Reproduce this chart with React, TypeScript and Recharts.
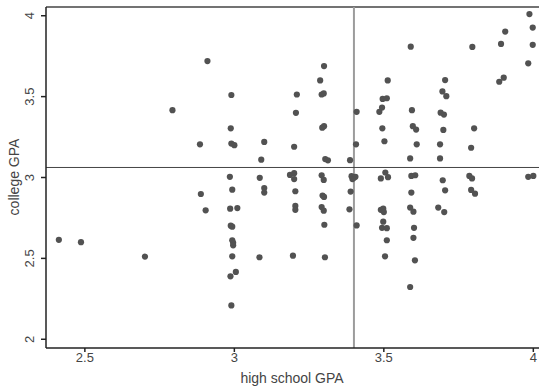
import { ScatterChart, Scatter, XAxis, YAxis, ReferenceLine, Label } from 'recharts';

// high school GPA / college GPA pairs
const hsGPA = [
  2.413, 2.487, 2.701, 2.793, 2.885, 2.888, 2.904, 2.91,
  2.99, 2.988, 2.99, 3.0, 2.985, 2.993, 2.986, 3.01, 2.988, 2.993, 2.993, 2.996, 2.996, 2.993, 2.987, 3.005, 2.99,
  3.1, 3.09, 3.085, 3.1, 3.1, 3.084,
  3.209, 3.206, 3.2, 3.186, 3.2, 3.2, 3.204, 3.204, 3.204, 3.196,
  3.3, 3.287, 3.292, 3.299, 3.294, 3.3, 3.304, 3.313, 3.292, 3.299, 3.295, 3.3, 3.292, 3.299, 3.301, 3.303,
  3.409, 3.407, 3.387, 3.392, 3.4, 3.405, 3.395, 3.389, 3.385, 3.409,
  3.513, 3.496, 3.51, 3.485, 3.494, 3.495, 3.502, 3.505, 3.49, 3.514, 3.49, 3.498, 3.5, 3.498, 3.494, 3.51, 3.51, 3.504,
  3.59, 3.594, 3.597, 3.608, 3.61, 3.588, 3.592, 3.605, 3.592, 3.588, 3.599, 3.601, 3.599, 3.604, 3.588,
  3.705, 3.696, 3.709, 3.69, 3.701, 3.699, 3.688, 3.688, 3.697, 3.705, 3.682, 3.702,
  3.796, 3.802, 3.792, 3.786, 3.795, 3.792, 3.805,
  3.892, 3.906, 3.886, 3.901,
  3.987, 3.998, 3.998, 3.983, 3.983, 4.0,
];

const colGPA = [
  2.615, 2.6, 2.511, 3.416, 3.205, 2.898, 2.797, 3.72,
  3.51, 3.304, 3.21, 3.2, 3.004, 2.925, 2.807, 2.811, 2.702, 2.696, 2.612, 2.596, 2.581, 2.513, 2.389, 2.416, 2.209,
  3.22, 3.11, 2.998, 2.935, 2.907, 2.507,
  3.513, 3.4, 3.19, 3.016, 3.027, 2.99, 2.915, 2.824, 2.8, 2.517,
  3.689, 3.6, 3.513, 3.52, 3.308, 3.317, 3.114, 3.106, 3.014, 2.985, 2.888, 2.88, 2.817, 2.795, 2.708, 2.507,
  3.406, 3.205, 3.107, 3.008, 2.998, 3.004, 2.99, 2.913, 2.803, 2.704,
  3.6, 3.486, 3.49, 3.406, 3.432, 3.304, 3.224, 3.031, 2.994, 3.002, 2.8, 2.807, 2.786, 2.727, 2.689, 2.687, 2.612, 2.513,
  3.809, 3.416, 3.317, 3.296, 3.205, 3.118, 3.01, 3.014, 2.907, 2.814, 2.789, 2.689, 2.627, 2.488, 2.323,
  3.602, 3.532, 3.503, 3.401, 3.389, 3.294, 3.205, 3.118, 2.983, 2.921, 2.814, 2.786,
  3.807, 3.304, 3.184, 3.01, 2.994, 2.923, 2.9,
  3.826, 3.902, 3.592, 3.617,
  4.01, 3.927, 3.82, 3.706, 3.004, 3.01,
];

const xTicks = [2.5, 3, 3.5, 4];
const yTicks = [2, 2.5, 3, 3.5, 4];
const xDomain = [2.37, 4.019];
const yDomain = [1.946, 4.054];
const meanHs = 3.4;
const meanCol = 3.062;

const data = hsGPA.map((x, i) => ({ x, y: colGPA[i] }));

const FONT = '"Liberation Sans", Arial, sans-serif';
const INK = '#444';

const XTick = (props: any) => {
  const { x, y, payload } = props;
  return (
    <text x={x} y={y + 8} textAnchor="middle" fontSize={13} fill={INK} fontFamily={FONT}>
      {payload.value}
    </text>
  );
};

const YTick = (props: any) => {
  const { x, y, payload } = props;
  const bx = x - 5;
  return (
    <text
      x={bx}
      y={y}
      transform={`rotate(-90 ${bx} ${y})`}
      textAnchor="middle"
      fontSize={13}
      fill={INK}
      fontFamily={FONT}
    >
      {payload.value}
    </text>
  );
};

const Dot = (props: any) => <circle cx={props.cx} cy={props.cy} r={3.1} fill="#525252" />;

export default function App() {
  return (
    <div style={{ position: 'absolute', left: 0, top: 0, background: '#fff' }}>
      <ScatterChart width={540} height={386} margin={{ top: 7, right: 1, left: 0, bottom: 0 }}>
        <XAxis
          type="number"
          dataKey="x"
          domain={xDomain}
          ticks={xTicks}
          allowDataOverflow
          height={38}
          tickSize={4}
          tick={<XTick />}
          stroke="#222"
          strokeWidth={1.5}
        >
          <Label
            content={() => (
              <text x={292} y={383} textAnchor="middle" fontSize={14} fill={INK} fontFamily={FONT}>
                high school GPA
              </text>
            )}
          />
        </XAxis>
        <YAxis
          type="number"
          dataKey="y"
          domain={yDomain}
          ticks={yTicks}
          allowDataOverflow
          width={46}
          tickSize={5}
          tick={<YTick />}
          stroke="#222"
          strokeWidth={1.5}
        >
          <Label
            content={() => (
              <text
                x={19}
                y={177}
                transform="rotate(-90 19 177)"
                textAnchor="middle"
                fontSize={14}
                fill={INK}
                fontFamily={FONT}
              >
                college GPA
              </text>
            )}
          />
        </YAxis>
        <ReferenceLine y={yDomain[1]} stroke="#444" strokeWidth={1.5} />
        <ReferenceLine x={meanHs} stroke="#9c9c9c" strokeWidth={2} />
        <ReferenceLine y={meanCol} stroke="#444" strokeWidth={1} />
        <Scatter data={data} shape={<Dot />} isAnimationActive={false} />
      </ScatterChart>
    </div>
  );
}
